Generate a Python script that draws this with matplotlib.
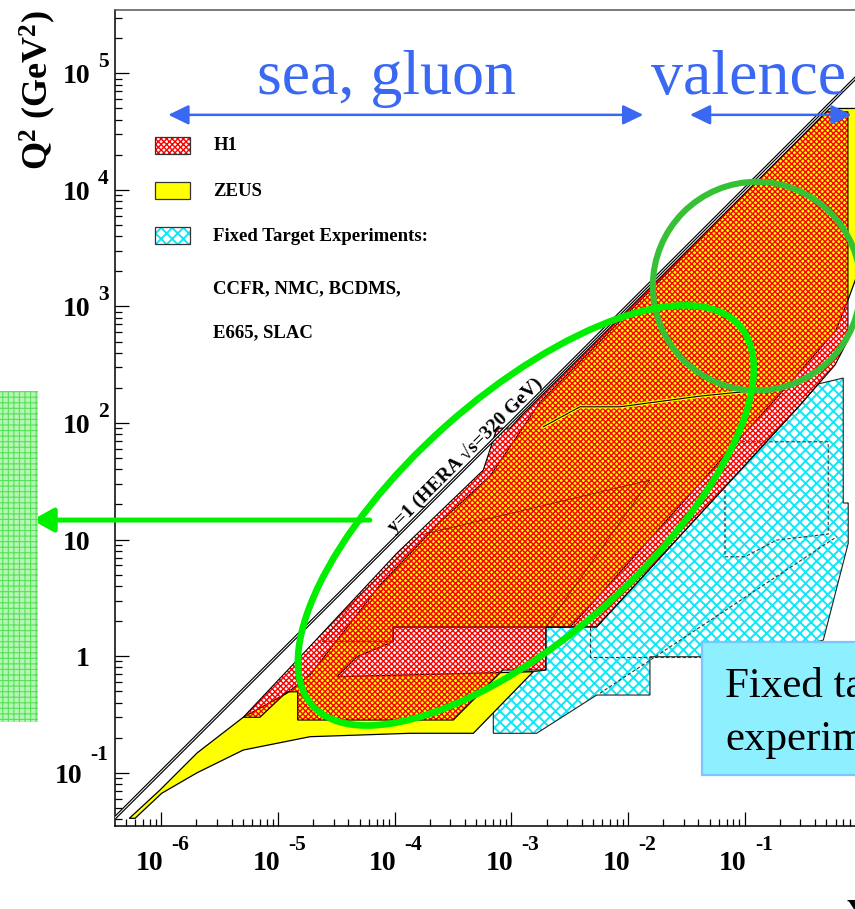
import numpy as np
import matplotlib
matplotlib.use("Agg")
import matplotlib.pyplot as plt
import matplotlib.transforms as mtransforms
from matplotlib.patches import Polygon, Rectangle, Ellipse
from matplotlib.ticker import LogLocator, NullFormatter

plt.rcParams["font.family"] = ["Liberation Serif", "DejaVu Serif"]
plt.rcParams["mathtext.fontset"] = "custom"
plt.rcParams["mathtext.rm"] = "Liberation Serif:bold"
plt.rcParams["mathtext.bf"] = "Liberation Serif:bold"
plt.rcParams["mathtext.it"] = "Liberation Serif:bold:italic"

# --- kinematic regions, (x, Q^2 in GeV^2) ---
S_HERA = 320.0 ** 2                      # y = 1 line: Q^2 = s x
kin_x = np.array([4.0e-7, 1.2])

zeus_x = [5.32e-7, 9.75e-7, 2.03e-6, 5.04e-6, 1.187e-5, 1.88e-5, 7.48e-5, 2.44e-4,
          6.55e-4, 1.185e-3, 1.76e-3, 0.441, 0.534, 1.18, 1.18, 0.766, 0.605, 0.2345,
          4.36e-3, 3.18e-3, 9.67e-5, 9.67e-5, 4.75e-5, 3.20e-5, 1.54e-3, 4.72e-4,
          1.352e-4, 1.88e-5, 5.04e-6, 2.03e-6, 1.008e-6, 5.95e-7]
zeus_q2 = [0.0406, 0.0711, 0.148, 0.299, 0.480, 0.689, 4.07, 14.1,
           35.0, 83.6, 151, 41200, 49900, 49900, 3700, 1132, 626, 211,
           2.485, 1.776, 1.776, 1.329, 0.988, 0.666, 0.735, 0.2178,
           0.2178, 0.2036, 0.1565, 0.1, 0.0666, 0.0406]

h1_x = [5.04e-6, 7.01e-6, 1.187e-5, 1.475e-5, 1.475e-5, 3.18e-4, 8.47e-4, 1.98e-3,
        1.98e-3, 5.38e-3, 0.297, 0.593, 0.766, 0.766, 0.503, 1.185e-3, 9.72e-4,
        7.52e-4, 5.74e-4, 1.04e-4, 1.543e-5]
h1_q2 = [0.299, 0.299, 0.492, 0.495, 0.283, 0.283, 0.760, 0.760,
         1.78, 1.78, 142, 314, 514, 46700, 46700, 112.4, 90.4,
         90.4, 39.4, 7.61, 0.982]

h1_svx_x = [2.38e-5, 9.73e-5, 9.73e-5, 1.98e-3, 0.0154, 1.647e-4, 5.04e-5]
h1_svx_q2 = [1.329, 1.329, 1.78, 1.78, 32.4, 10.93, 3.34]

ft_x = [7.0e-4, 1.647e-3, 5.38e-3, 0.0154, 0.0154, 0.043, 0.135, 0.471, 0.770,
        0.770, 0.698, 0.698, 0.424, 0.297, 5.38e-3, 1.967e-3, 1.967e-3, 1.54e-3, 7.0e-4]
ft_q2 = [0.2178, 0.2178, 0.4638, 0.4638, 0.988, 0.988, 0.926, 1.374, 9.28,
         20.6, 20.6, 243, 216, 142, 1.78, 1.78, 0.760, 0.735, 0.716]

ft_box_x = [0.0677, 0.519, 0.519, 0.1876, 0.1004, 0.0677, 0.0677]
ft_box_q2 = [69.0, 69.0, 11.15, 9.9, 7.12, 7.12, 69.0]
ft_dash1_x = [4.72e-3, 4.72e-3, 0.0428]
ft_dash1_q2 = [1.787, 0.988, 0.988]
ft_dash2_x = [5.74e-3, 0.613]
ft_dash2_q2 = [0.480, 10.57]

zeus_inner_x = [1.877e-3, 3.87e-3, 8.52e-3, 0.0413, 0.135]
zeus_inner_q2 = [92.8, 137.7, 137.7, 170, 191.5]

# axis ranges / ticks
x_lim = (4.01e-7, 1.122)
y_lim = (3.49e-2, 3.49e5)
x_exps = list(range(-6, 1))
y_exps = list(range(-1, 6))

# annotations (positions in data units)
sea_arrow_x = (1.148e-6, 1.35e-2)
val_arrow_x = (3.39e-2, 0.824)
arrow_q2 = 4.40e4
label_q2 = 6.62e4
sea_label_x = 8.59e-5
val_label_x = 0.1072
ellipse_c = (1.33e-3, 16.1)      # bright green ellipse centre (x, Q^2)
ellipse_wh = (4.90, 2.06)        # in decades
ellipse_ang = 41.7
circle_c = (0.1265, 1493.0)      # dark green circle centre
circle_wh = (1.78, 1.79)
garrow_x = (6.12e-5, 7.8e-8)
garrow_q2 = 14.7
ftbox_x = (0.0428, 3.0)
ftbox_q2 = (0.0955, 1.329)

BLUE = "#3b68f2"
RED = "#ff0000"
CYAN = "#10e6f6"
H1_HATCH = "xxxxxx"

fig = plt.figure(figsize=(8.55, 9.09), dpi=100)
ax = fig.add_axes([0.1345, 0.09131, 0.87988, 0.89769])
ax.set_xscale("log")
ax.set_yscale("log")
ax.set_xlim(*x_lim)
ax.set_ylim(*y_lim)


def hatched(xs, ys, color, hatch, hlw, z):
    plt.rcParams["hatch.linewidth"] = hlw
    p = Polygon(np.column_stack([xs, ys]), closed=True, facecolor="none",
                edgecolor=color, hatch=hatch, lw=0, zorder=z)
    if hasattr(p, "set_hatch_linewidth"):
        p.set_hatch_linewidth(hlw)
    ax.add_patch(p)
    return p


def outline(xs, ys, z, lw=0.8, color="black"):
    ax.add_patch(Polygon(np.column_stack([xs, ys]), closed=True, fill=False,
                         edgecolor=color, lw=lw, zorder=z))


# fixed target (cyan cross hatch)
hatched(ft_x, ft_q2, CYAN, "xxx", 1.4, 2)
outline(ft_x, ft_q2, 2.1, color="#222222")
ax.plot(ft_box_x, ft_box_q2, color="#333333", lw=0.8, ls=(0, (3, 2)), zorder=2.2)
ax.plot(ft_dash1_x, ft_dash1_q2, color="#333333", lw=0.8, ls=(0, (3, 2)), zorder=2.2)
ax.plot(ft_dash2_x, ft_dash2_q2, color="#333333", lw=0.8, ls=(0, (3, 2)), zorder=2.2)

# ZEUS (yellow)
ax.add_patch(Polygon(np.column_stack([zeus_x, zeus_q2]), closed=True,
                     facecolor="#ffff00", edgecolor="black", lw=0.9, zorder=3))

# H1 (red cross hatch)
hatched(h1_x, h1_q2, RED, H1_HATCH, 1.0, 4)
hatched(h1_svx_x, h1_svx_q2, RED, H1_HATCH, 0.6, 4.2)
outline(h1_x, h1_q2, 4.5)
outline(h1_svx_x, h1_svx_q2, 4.5, lw=0.5, color="#661100")
ax.plot(zeus_inner_x, zeus_inner_q2, color="#ffff00", lw=2.4, zorder=4.6)
ax.plot(zeus_inner_x, zeus_inner_q2, color="black", lw=0.8, zorder=4.7)

# y = 1 line (double line look)
ax.plot(kin_x, S_HERA * kin_x, color="black", lw=2.4, zorder=6, solid_capstyle="butt")
ax.plot(kin_x, S_HERA * kin_x, color="white", lw=0.7, zorder=6.1, solid_capstyle="butt")
ax.text(4.0e-4, 53.0, "y=1 (HERA \u221as=320 GeV)", rotation=45, rotation_mode="anchor",
        ha="center", va="center", fontsize=14, fontweight="bold", zorder=7)

# legend drawn by hand
leg_box_y = [0.8235, 0.768, 0.7129]
for yb, fc, hc, hh, lw in [(leg_box_y[0], "none", RED, H1_HATCH, 1.0),
                           (leg_box_y[1], "#ffff00", None, None, 0),
                           (leg_box_y[2], "none", CYAN, "xxx", 1.4)]:
    plt.rcParams["hatch.linewidth"] = lw if lw else 1.0
    if hh:
        r = Rectangle((0.0532, yb), 0.0465, 0.0212, transform=ax.transAxes,
                      facecolor="none", edgecolor=hc, hatch=hh, lw=0, zorder=5)
        if hasattr(r, "set_hatch_linewidth"):
            r.set_hatch_linewidth(lw)
        ax.add_patch(r)
    else:
        ax.add_patch(Rectangle((0.0532, yb), 0.0465, 0.0212, transform=ax.transAxes,
                               facecolor=fc, edgecolor="none", zorder=5))
    ax.add_patch(Rectangle((0.0532, yb), 0.0465, 0.0212, transform=ax.transAxes,
                           fill=False, edgecolor="#333333", lw=0.9, zorder=5.1))

leg_texts = ["H1", "ZEUS", "Fixed Target Experiments:", "CCFR, NMC, BCDMS,", "E665, SLAC"]
leg_text_y = [0.8339, 0.7773, 0.7222, 0.6581, 0.6042]
for t, yy in zip(leg_texts, leg_text_y):
    ax.text(0.1307, yy, t, transform=ax.transAxes, ha="left", va="center",
            fontsize=13.5, fontweight="bold", zorder=5)

# blue annotations
for xa, xb in [sea_arrow_x, val_arrow_x]:
    ax.annotate("", xy=(xb, arrow_q2), xytext=(xa, arrow_q2),
                arrowprops=dict(arrowstyle="<|-|>,head_length=0.62,head_width=0.3",
                                mutation_scale=20, color=BLUE, lw=1.8,
                                shrinkA=0, shrinkB=0), zorder=8)
ax.text(sea_label_x, label_q2, "sea, gluon", color=BLUE, fontsize=46,
        ha="center", va="baseline", fontweight="normal", zorder=8)
ax.text(val_label_x, label_q2, "valence", color=BLUE, fontsize=46,
        ha="center", va="baseline", fontweight="normal", zorder=8)

# green ellipse / circle drawn in decade units
lx0, lx1 = np.log10(x_lim)
ly0, ly1 = np.log10(y_lim)
dec_trans = (mtransforms.Affine2D().translate(-lx0, -ly0)
             .scale(1.0 / (lx1 - lx0), 1.0 / (ly1 - ly0)) + ax.transAxes)
ax.add_patch(Ellipse((np.log10(circle_c[0]), np.log10(circle_c[1])), circle_wh[0], circle_wh[1],
                     transform=dec_trans, fill=False, edgecolor="#36c036", lw=4.4,
                     zorder=8, clip_on=False))
ax.add_patch(Ellipse((np.log10(ellipse_c[0]), np.log10(ellipse_c[1])), ellipse_wh[0], ellipse_wh[1],
                     angle=ellipse_ang, transform=dec_trans, fill=False,
                     edgecolor="#00ee00", lw=4.8, zorder=8.5))
ax.annotate("", xy=(garrow_x[1], garrow_q2), xytext=(garrow_x[0], garrow_q2),
            arrowprops=dict(arrowstyle="-|>,head_length=0.65,head_width=0.36",
                            mutation_scale=20, color="#00ee00", lw=3.6,
                            shrinkA=0, shrinkB=0),
            annotation_clip=False, zorder=8.5)

# green hatched block left of the axis
plt.rcParams["hatch.linewidth"] = 0.8
gb = Rectangle((0.0, 0.2054), 0.0441, 0.3648, transform=fig.transFigure,
               facecolor="#b4f6b4", edgecolor="#58e058", hatch="+++", lw=0)
if hasattr(gb, "set_hatch_linewidth"):
    gb.set_hatch_linewidth(0.8)
fig.add_artist(gb)

# fixed target text box
ax.add_patch(Rectangle((ftbox_x[0], ftbox_q2[0]), ftbox_x[1] - ftbox_x[0],
                       ftbox_q2[1] - ftbox_q2[0], facecolor="#8eefff",
                       edgecolor="#7cc6ff", lw=1.6, zorder=9, clip_on=False))
ax.text(0.0677, 0.4485, "Fixed target", fontsize=31, ha="left", va="baseline",
        zorder=9.5, clip_on=False)
ax.text(0.0677, 0.1565, "experiments", fontsize=31, ha="left", va="baseline",
        zorder=9.5, clip_on=False)

# axes styling (ROOT-like)
ax.xaxis.set_major_locator(LogLocator(base=10, numticks=30))
ax.yaxis.set_major_locator(LogLocator(base=10, numticks=30))
ax.xaxis.set_minor_locator(LogLocator(base=10, subs=np.arange(2, 10), numticks=200))
ax.yaxis.set_minor_locator(LogLocator(base=10, subs=np.arange(2, 10), numticks=200))
for axis in (ax.xaxis, ax.yaxis):
    axis.set_major_formatter(NullFormatter())
    axis.set_minor_formatter(NullFormatter())
ax.tick_params(which="major", direction="in", length=10, width=0.9,
               top=False, right=False, labelbottom=False, labelleft=False)
ax.tick_params(which="minor", direction="in", length=5.3, width=0.9,
               top=False, right=False)
ax.spines["left"].set_linewidth(1.1)
ax.spines["bottom"].set_linewidth(1.1)
ax.spines["top"].set_linewidth(1.1)
ax.spines["top"].set_color("#555555")

# tick labels "10^n" in ROOT style
xtr = ax.get_xaxis_transform()
for e in x_exps:
    xv = 10.0 ** e
    if e == 0:
        ax.text(xv, 0, "1", transform=mtransforms.offset_copy(xtr, fig, x=0, y=-44, units="dots"),
                ha="center", va="baseline", fontsize=20, fontweight="bold", clip_on=False)
    else:
        ax.text(xv, 0, "10", transform=mtransforms.offset_copy(xtr, fig, x=2, y=-44, units="dots"),
                ha="right", va="baseline", fontsize=20, fontweight="bold", clip_on=False)
        ax.text(xv, 0, str(e), transform=mtransforms.offset_copy(xtr, fig, x=10, y=-24, units="dots"),
                ha="left", va="baseline", fontsize=15.5, fontweight="bold", clip_on=False)

ytr = ax.get_yaxis_transform()
for e in y_exps:
    yv = 10.0 ** e
    if e in (0, 1):
        ax.text(0, yv, "1" if e == 0 else "10",
                transform=mtransforms.offset_copy(ytr, fig, x=-25, y=-10, units="dots"),
                ha="right", va="baseline", fontsize=20, fontweight="bold", clip_on=False)
    else:
        sh = 8 if e < 0 else 0
        up = 13 if e < 0 else 6
        ax.text(0, yv, "10", transform=mtransforms.offset_copy(ytr, fig, x=-25 - sh, y=-10, units="dots"),
                ha="right", va="baseline", fontsize=20, fontweight="bold", clip_on=False)
        ax.text(0, yv, str(e), transform=mtransforms.offset_copy(ytr, fig, x=-17 - sh, y=up, units="dots"),
                ha="left", va="baseline", fontsize=15.5, fontweight="bold", clip_on=False)

ax.text(-0.1024, 0.902, r"$\mathbf{Q^{2}\ (GeV^{2})}$", transform=ax.transAxes,
        rotation=90, ha="center", va="center", fontsize=26, clip_on=False)
ax.text(0.9726, -0.111, "x", transform=ax.transAxes, ha="left", va="baseline",
        fontsize=26, fontweight="bold", clip_on=False)

fig.savefig("out.png", dpi=100)
